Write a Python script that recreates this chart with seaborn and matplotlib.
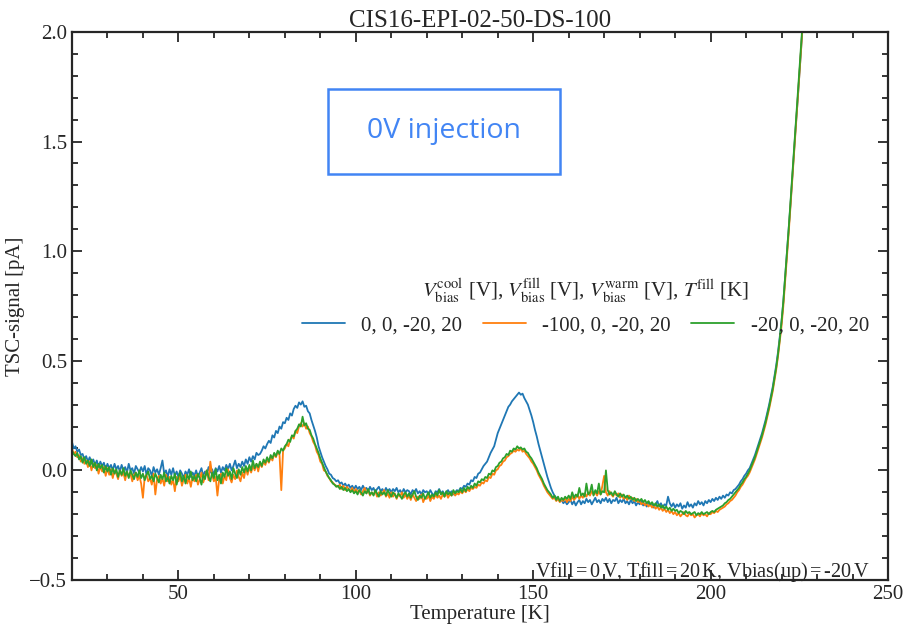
import numpy as np
import pandas as pd
import matplotlib
matplotlib.use("Agg")
import matplotlib.pyplot as plt
import seaborn as sns
from matplotlib.patches import Rectangle
from matplotlib.ticker import MultipleLocator

# measured temperature grid [K], 0.5 K steps
temperature = np.arange(20, 226.5, 0.5)

# 0, 0, -20, 20
tsc_blue = [
    0.13, 0.10, 0.11, 0.085, 0.095, 0.07, 0.075, 0.05, 0.065, 0.04,
    0.06, 0.03, 0.05, 0.025, 0.045, 0.015, 0.04, 0.02, 0.035, 0.005,
    0.03, 0.01, 0.025, 0.0, 0.03, 0.005, 0.02, -0.005, 0.025, 0.0,
    0.015, -0.01, 0.03, 0.0, 0.01, -0.015, 0.02, 0.005, -0.01, 0.015,
    -0.005, 0.02, -0.02, 0.01, 0.0, -0.025, 0.015, -0.01, 0.005, -0.02,
    0.01, 0.045, -0.015, 0.0, -0.03, 0.005, -0.02, 0.01, -0.025, -0.005,
    -0.03, 0.0, -0.015, -0.035, -0.005, -0.02, 0.005, -0.03, -0.01, -0.025,
    0.0, -0.03, -0.01, 0.01, -0.025, -0.005, -0.02, 0.015, -0.01, 0.005,
    -0.02, 0.01, -0.005, 0.02, -0.01, 0.015, 0.0, 0.025, 0.005, 0.03,
    0.0, 0.02, 0.045, 0.01, 0.03, 0.015, 0.04, 0.02, 0.05, 0.03,
    0.06, 0.04, 0.065, 0.05, 0.08, 0.07, 0.075, 0.09, 0.11, 0.10,
    0.12, 0.135, 0.125, 0.16, 0.15, 0.18, 0.17, 0.20, 0.19, 0.22,
    0.215, 0.24, 0.23, 0.26, 0.25, 0.28, 0.295, 0.285, 0.31, 0.30,
    0.315, 0.29, 0.295, 0.27, 0.26, 0.23, 0.205, 0.18, 0.15, 0.11,
    0.085, 0.06, 0.04, 0.02, 0.005, -0.015, -0.02, -0.035, -0.04, -0.05,
    -0.045, -0.06, -0.055, -0.07, -0.06, -0.075, -0.065, -0.08, -0.07, -0.085,
    -0.07, -0.085, -0.075, -0.09, -0.07, -0.085, -0.08, -0.095, -0.075, -0.09,
    -0.08, -0.10, -0.085, -0.075, -0.095, -0.085, -0.10, -0.08, -0.095, -0.085,
    -0.10, -0.085, -0.095, -0.08, -0.10, -0.09, -0.105, -0.085, -0.10, -0.09,
    -0.095, -0.11, -0.09, -0.10, -0.085, -0.105, -0.095, -0.11, -0.09, -0.10,
    -0.095, -0.11, -0.09, -0.105, -0.115, -0.095, -0.10, -0.085, -0.105, -0.095,
    -0.11, -0.10, -0.09, -0.105, -0.095, -0.11, -0.10, -0.09, -0.095, -0.08,
    -0.085, -0.07, -0.075, -0.06, -0.065, -0.045, -0.05, -0.03, -0.035, -0.015,
    -0.01, 0.005, 0.02, 0.03, 0.04, 0.06, 0.08, 0.095, 0.11, 0.14,
    0.17, 0.19, 0.21, 0.23, 0.25, 0.27, 0.29, 0.30, 0.315, 0.325,
    0.335, 0.345, 0.355, 0.345, 0.35, 0.33, 0.315, 0.30, 0.275, 0.25,
    0.22, 0.185, 0.155, 0.12, 0.09, 0.06, 0.03, 0.0, -0.03, -0.055,
    -0.08, -0.10, -0.115, -0.125, -0.13, -0.14, -0.135, -0.15, -0.14, -0.155,
    -0.145, -0.135, -0.155, -0.14, -0.16, -0.145, -0.135, -0.155, -0.14, -0.15,
    -0.13, -0.145, -0.135, -0.155, -0.14, -0.125, -0.145, -0.135, -0.15, -0.13,
    -0.14, -0.125, -0.145, -0.13, -0.15, -0.135, -0.14, -0.125, -0.15, -0.135,
    -0.145, -0.13, -0.15, -0.14, -0.155, -0.135, -0.15, -0.14, -0.16, -0.145,
    -0.155, -0.14, -0.16, -0.15, -0.165, -0.145, -0.16, -0.15, -0.17, -0.155,
    -0.14, -0.165, -0.15, -0.17, -0.155, -0.16, -0.12, -0.15, -0.165, -0.15,
    -0.17, -0.155, -0.165, -0.15, -0.175, -0.16, -0.17, -0.145, -0.165, -0.155,
    -0.17, -0.15, -0.16, -0.14, -0.155, -0.145, -0.16, -0.14, -0.15, -0.135,
    -0.145, -0.13, -0.14, -0.125, -0.135, -0.12, -0.13, -0.115, -0.125, -0.11,
    -0.115, -0.10, -0.105, -0.09, -0.085, -0.075, -0.065, -0.05, -0.04, -0.025,
    -0.015, 0.0, 0.01, 0.03, 0.05, 0.07, 0.095, 0.12, 0.145, 0.17,
    0.20, 0.23, 0.265, 0.30, 0.34, 0.38, 0.43, 0.48, 0.54, 0.61,
    0.68, 0.77, 0.88, 0.99, 1.10, 1.21, 1.33, 1.45, 1.57, 1.68,
    1.80, 1.92, 2.05,
]

# -100, 0, -20, 20
tsc_orange = [
    0.10, 0.075, 0.085, 0.06, 0.07, 0.04, 0.055, 0.03, 0.045, 0.015,
    0.04, 0.0, 0.03, 0.01, 0.025, -0.015, 0.02, -0.005, 0.015, -0.025,
    0.01, -0.02, 0.005, -0.035, 0.0, -0.015, -0.04, 0.0, -0.025, -0.01,
    -0.045, -0.005, -0.03, -0.015, -0.05, -0.02, -0.01, -0.045, -0.025, -0.06,
    -0.125, -0.03, -0.02, -0.05, -0.035, -0.065, -0.015, -0.11, -0.04, -0.025,
    -0.06, -0.035, -0.07, -0.02, -0.05, -0.03, -0.065, -0.04, -0.095, -0.03,
    -0.05, -0.025, -0.07, -0.04, -0.02, -0.06, -0.035, -0.075, -0.03, -0.05,
    -0.02, -0.065, -0.04, -0.01, -0.055, -0.03, 0.0, -0.045, 0.04, -0.02,
    -0.05, -0.03, -0.115, -0.04, -0.015, -0.06, -0.025, -0.045, 0.005, -0.035,
    -0.055, -0.02, -0.04, 0.0, -0.03, -0.05, -0.01, -0.035, 0.01, -0.02,
    0.015, -0.01, 0.02, 0.0, 0.03, -0.005, 0.035, 0.015, 0.04, 0.025,
    0.05, 0.035, 0.06, 0.045, 0.075, 0.06, 0.085, 0.07, -0.09, 0.09,
    0.10, 0.12, 0.11, 0.14, 0.155, 0.145, 0.18, 0.17, 0.20, 0.215,
    0.20, 0.215, 0.19, 0.20, 0.17, 0.155, 0.13, 0.115, 0.085, 0.07,
    0.04, 0.03, 0.0, -0.005, -0.025, -0.035, -0.05, -0.055, -0.065, -0.07,
    -0.075, -0.065, -0.085, -0.07, -0.09, -0.075, -0.085, -0.095, -0.08, -0.10,
    -0.085, -0.10, -0.09, -0.11, -0.095, -0.08, -0.105, -0.09, -0.115, -0.10,
    -0.11, -0.095, -0.12, -0.10, -0.115, -0.105, -0.09, -0.12, -0.105, -0.125,
    -0.10, -0.12, -0.105, -0.13, -0.11, -0.12, -0.10, -0.125, -0.11, -0.13,
    -0.115, -0.135, -0.11, -0.125, -0.14, -0.12, -0.13, -0.11, -0.145, -0.125,
    -0.13, -0.115, -0.14, -0.12, -0.13, -0.11, -0.125, -0.115, -0.13, -0.11,
    -0.12, -0.105, -0.125, -0.11, -0.115, -0.10, -0.115, -0.105, -0.11, -0.095,
    -0.105, -0.09, -0.10, -0.085, -0.095, -0.08, -0.085, -0.075, -0.08, -0.065,
    -0.07, -0.055, -0.06, -0.045, -0.05, -0.03, -0.035, -0.015, -0.02, 0.0,
    0.005, 0.02, 0.025, 0.04, 0.045, 0.06, 0.065, 0.075, 0.08, 0.09,
    0.085, 0.095, 0.09, 0.10, 0.085, 0.09, 0.075, 0.065, 0.055, 0.04,
    0.03, 0.015, 0.0, -0.02, -0.035, -0.05, -0.07, -0.085, -0.10, -0.11,
    -0.12, -0.13, -0.125, -0.14, -0.13, -0.145, -0.135, -0.14, -0.125, -0.145,
    -0.13, -0.14, -0.12, -0.135, -0.125, -0.11, -0.13, -0.115, -0.125, -0.105,
    -0.12, -0.10, -0.115, -0.095, -0.11, -0.10, -0.115, -0.095, -0.11, -0.07,
    -0.025, -0.10, -0.115, -0.095, -0.11, -0.12, -0.10, -0.115, -0.105, -0.125,
    -0.11, -0.13, -0.12, -0.135, -0.115, -0.13, -0.125, -0.14, -0.13, -0.145,
    -0.14, -0.155, -0.145, -0.16, -0.15, -0.165, -0.155, -0.17, -0.16, -0.175,
    -0.165, -0.18, -0.17, -0.185, -0.175, -0.19, -0.18, -0.195, -0.185, -0.20,
    -0.19, -0.205, -0.195, -0.21, -0.20, -0.19, -0.205, -0.21, -0.195, -0.205,
    -0.20, -0.215, -0.205, -0.20, -0.21, -0.195, -0.205, -0.20, -0.21, -0.195,
    -0.20, -0.19, -0.195, -0.185, -0.19, -0.18, -0.175, -0.17, -0.165, -0.155,
    -0.15, -0.14, -0.135, -0.125, -0.115, -0.10, -0.09, -0.075, -0.065, -0.05,
    -0.035, -0.025, -0.01, 0.01, 0.03, 0.05, 0.075, 0.10, 0.125, 0.15,
    0.18, 0.21, 0.245, 0.28, 0.32, 0.36, 0.41, 0.46, 0.52, 0.59,
    0.66, 0.75, 0.86, 0.97, 1.08, 1.20, 1.32, 1.44, 1.56, 1.68,
    1.80, 1.92, 2.04,
]

# -20, 0, -20, 20
tsc_green = [
    0.09, 0.075, 0.065, 0.08, 0.05, 0.065, 0.035, 0.06, 0.03, 0.045,
    0.02, 0.05, 0.015, 0.035, 0.0, 0.03, 0.01, 0.025, -0.01, 0.02,
    -0.005, 0.015, -0.02, 0.01, -0.015, 0.005, -0.03, 0.0, -0.02, 0.01,
    -0.025, -0.005, -0.035, 0.0, -0.02, -0.04, -0.01, -0.03, 0.0, -0.035,
    -0.015, -0.045, -0.02, -0.005, -0.04, -0.025, -0.05, -0.015, -0.035, -0.055,
    -0.02, -0.04, -0.01, -0.05, -0.03, -0.06, -0.025, -0.045, -0.015, -0.065,
    -0.03, -0.01, -0.05, -0.025, -0.06, -0.02, -0.04, -0.005, -0.045, -0.025,
    -0.05, -0.015, -0.035, -0.065, -0.02, -0.04, 0.0, -0.03, -0.05, -0.01,
    -0.035, 0.005, -0.045, -0.02, -0.06, -0.01, -0.03, 0.01, -0.025, -0.005,
    -0.04, 0.01, -0.015, -0.035, 0.005, -0.02, 0.015, -0.01, 0.02, -0.005,
    0.025, 0.0, 0.045, 0.01, 0.03, 0.015, 0.04, 0.02, 0.05, 0.035,
    0.06, 0.04, 0.07, 0.055, 0.08, 0.065, 0.09, 0.075, 0.10, 0.09,
    0.11, 0.12, 0.14, 0.13, 0.16, 0.155, 0.18, 0.19, 0.21, 0.20,
    0.245, 0.205, 0.215, 0.19, 0.185, 0.16, 0.145, 0.12, 0.10, 0.08,
    0.055, 0.035, 0.015, -0.005, -0.02, -0.035, -0.045, -0.06, -0.065, -0.075,
    -0.07, -0.085, -0.075, -0.09, -0.08, -0.095, -0.085, -0.10, -0.09, -0.105,
    -0.095, -0.11, -0.09, -0.10, -0.115, -0.095, -0.105, -0.085, -0.11, -0.10,
    -0.115, -0.09, -0.105, -0.12, -0.095, -0.11, -0.10, -0.115, -0.09, -0.105,
    -0.12, -0.10, -0.11, -0.125, -0.105, -0.115, -0.13, -0.11, -0.10, -0.12,
    -0.105, -0.125, -0.11, -0.095, -0.12, -0.135, -0.115, -0.125, -0.105, -0.13,
    -0.115, -0.10, -0.125, -0.11, -0.12, -0.10, -0.115, -0.09, -0.11, -0.10,
    -0.12, -0.095, -0.11, -0.10, -0.115, -0.09, -0.105, -0.095, -0.10, -0.085,
    -0.10, -0.08, -0.095, -0.075, -0.085, -0.07, -0.08, -0.06, -0.07, -0.05,
    -0.055, -0.04, -0.045, -0.03, -0.035, -0.015, -0.02, 0.0, -0.005, 0.015,
    0.02, 0.035, 0.04, 0.055, 0.06, 0.075, 0.07, 0.09, 0.085, 0.10,
    0.095, 0.11, 0.10, 0.105, 0.095, 0.10, 0.085, 0.08, 0.065, 0.055,
    0.04, 0.025, 0.01, -0.01, -0.025, -0.04, -0.06, -0.075, -0.09, -0.10,
    -0.11, -0.125, -0.115, -0.135, -0.12, -0.14, -0.125, -0.135, -0.12, -0.13,
    -0.115, -0.13, -0.10, -0.125, -0.11, -0.12, -0.08, -0.115, -0.105, -0.12,
    -0.06, -0.11, -0.10, -0.065, -0.115, -0.09, -0.105, -0.06, -0.11, -0.095,
    -0.10, 0.0, -0.09, -0.11, -0.10, -0.115, -0.095, -0.11, -0.12, -0.105,
    -0.12, -0.11, -0.125, -0.115, -0.13, -0.12, -0.135, -0.125, -0.14, -0.13,
    -0.14, -0.13, -0.145, -0.135, -0.15, -0.14, -0.155, -0.145, -0.16, -0.15,
    -0.165, -0.155, -0.17, -0.16, -0.175, -0.165, -0.18, -0.17, -0.185, -0.175,
    -0.185, -0.18, -0.195, -0.185, -0.19, -0.20, -0.185, -0.195, -0.19, -0.20,
    -0.195, -0.19, -0.205, -0.195, -0.20, -0.19, -0.20, -0.195, -0.19, -0.20,
    -0.19, -0.185, -0.19, -0.18, -0.175, -0.17, -0.165, -0.16, -0.15, -0.145,
    -0.135, -0.13, -0.12, -0.11, -0.10, -0.09, -0.08, -0.065, -0.055, -0.04,
    -0.03, -0.015, 0.0, 0.02, 0.04, 0.06, 0.085, 0.11, 0.135, 0.16,
    0.19, 0.22, 0.255, 0.29, 0.33, 0.37, 0.42, 0.47, 0.53, 0.60,
    0.68, 0.77, 0.88, 0.99, 1.10, 1.22, 1.34, 1.46, 1.58, 1.70,
    1.82, 1.94, 2.06,
]

series_labels = ["0, 0, -20, 20", "-100, 0, -20, 20", "-20, 0, -20, 20"]
series_colors = ["#1f77b4", "#ff7f0e", "#2ca02c"]

sns.set_style("ticks")
plt.rcParams["font.family"] = ["Liberation Serif", "DejaVu Serif"]
plt.rcParams["mathtext.fontset"] = "stix"

df = pd.DataFrame({
    "T": np.concatenate([temperature] * 3),
    "signal": np.concatenate([tsc_blue, tsc_orange, tsc_green]),
    "setting": np.repeat(series_labels, len(temperature)),
})

fig = plt.figure(figsize=(9.04, 6.27), dpi=100)
ax = fig.add_axes([0.0796, 0.075, 0.9027, 0.874])

sns.lineplot(data=df, x="T", y="signal", hue="setting", hue_order=series_labels,
             palette=series_colors, linewidth=1.3, ax=ax, estimator=None, sort=False)

ax.set_xlim(20, 250)
ax.set_ylim(-0.5, 2.0)
ax.xaxis.set_major_locator(MultipleLocator(50))
ax.xaxis.set_minor_locator(MultipleLocator(10))
ax.yaxis.set_major_locator(MultipleLocator(0.5))
ax.yaxis.set_minor_locator(MultipleLocator(0.1))
ax.tick_params(which="both", direction="in", top=True, right=True, labelsize=15, width=1.3)
ax.tick_params(which="major", length=7)
ax.tick_params(which="minor", length=4)
for sp in ax.spines.values():
    sp.set_linewidth(1.6)

ax.set_xlabel("Temperature [K]", fontsize=15, labelpad=1)
ax.set_ylabel("TSC-signal [pA]", fontsize=15, labelpad=3)
ax.set_title("CIS16-EPI-02-50-DS-100", fontsize=18, pad=3)

leg = ax.legend(
    title=r"$V_\mathrm{bias}^\mathrm{cool}$ [V], $V_\mathrm{bias}^\mathrm{fill}$ [V], "
          r"$V_\mathrm{bias}^\mathrm{warm}$ [V], $T^\mathrm{fill}$ [K]",
    ncol=3, frameon=False, fontsize=15, title_fontsize=15, loc="center",
    bbox_to_anchor=(0.629, 0.50), handlelength=2.07, handletextpad=0.77,
    columnspacing=1.0,
)

box_blue = "#4285f4"
ax.add_patch(Rectangle((0.314, 0.741), 0.284, 0.155, transform=ax.transAxes,
                       fill=False, edgecolor=box_blue, linewidth=1.8))
ax.text(0.456, 0.819, "0V injection", transform=ax.transAxes, ha="center", va="center",
        fontsize=20.5, color=box_blue, family=["Open Sans", "DejaVu Sans"])

ax.text(0.978, 0.006, r"Vfill$\,$=$\,$0$\,$V, Tfill$\,$=$\,$20$\,$K, Vbias(up)$\,$=$\,$-20$\,$V",
        transform=ax.transAxes, ha="right", va="baseline", fontsize=14.6)

fig.savefig("out.png", dpi=100)
